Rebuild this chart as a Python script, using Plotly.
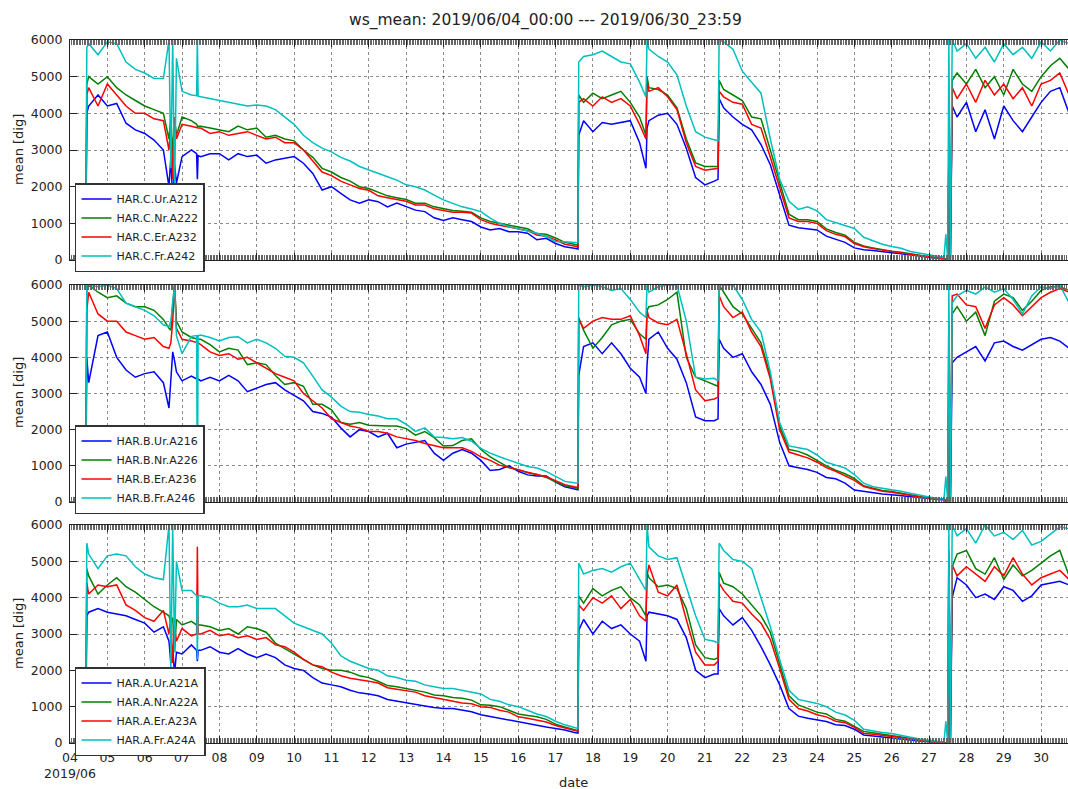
import pandas as pd
import plotly.graph_objects as go

# ---------------- data (sample times in days after 2019-06-04 00:00) ----------------
T_DAYS = [
    0, 0.42, 0.45, 0.5, 0.75, 1.0, 1.25, 1.5, 1.75, 2.0, 2.25, 2.5, 2.65, 2.7, 2.75, 2.8, 2.85, 3.0, 3.25,
    3.39, 3.41, 3.43,
    3.5, 3.75, 4.0, 4.25, 4.5, 4.75, 5.0, 5.25, 5.5, 5.75, 6.0, 6.25, 6.5, 6.75, 7.0, 7.25, 7.5, 7.75,
    8.0, 8.25, 8.5, 8.75, 9.0, 9.25, 9.5, 9.75, 10.0, 10.25, 10.5, 10.75, 11.0, 11.25, 11.5, 11.75,
    12.0, 12.25, 12.5, 12.75, 13.0, 13.25, 13.5, 13.6,
    13.62, 13.75, 14.0, 14.25, 14.5, 14.75, 15.0, 15.25, 15.42,
    15.45, 15.5, 15.75, 16.0, 16.25, 16.5, 16.75, 17.0, 17.25, 17.35,
    17.38, 17.5, 17.75, 18.0, 18.25, 18.5, 18.75, 19.0, 19.25, 19.5, 19.75, 20.0, 20.25, 20.5, 20.75,
    21.0, 21.25, 21.5, 21.75, 22.0, 22.25, 22.5, 22.75, 23.0, 23.25, 23.4,
    23.45, 23.5, 23.53, 23.57,
    23.62, 23.75, 24.0, 24.25, 24.5, 24.75, 25.0, 25.25, 25.5, 25.75, 26.0, 26.25, 26.5, 26.75,
]

# ---- top panel (HAR.C) ----
C_UR = [0, 0, 4000, 4200, 4500, 4200, 4270, 3730, 3550, 3450, 3270, 3000, 2000, 2800, 1600, 2600, 2100, 2820, 3000,
        2900, 2200, 2850,
        2820, 2900, 2900, 2730, 2900, 2820, 2860, 2640, 2730, 2770,
        2820, 2640, 2360, 1910, 2000, 1820, 1640, 1550, 1640, 1590,
        1450, 1550, 1450, 1360, 1320, 1150, 1080, 1150, 1100, 1050,
        900, 820, 860, 770, 770, 730, 550, 590, 450, 360, 320, 300,
        3400, 3800, 3500, 3750, 3700, 3750, 3800, 3200, 2500,
        3600, 3800, 3950, 4000, 3700, 3050, 2250, 2050, 2150, 2200,
        4400, 4150, 3900, 3700, 3550, 3150, 2600, 1750, 950, 880, 850, 820, 650, 560, 480,
        330, 280, 260, 220, 200, 170, 150, 110, 70, 45, 35,
        30, 0, 2600, 0,
        4200, 3900, 4300, 3500, 4100, 3300, 4200, 3800, 3500, 3900, 4300, 4600, 4700, 4000]
C_NR = [0, 0, 4800, 5000, 4800, 5000, 4700, 4500, 4350, 4200, 4100, 4000, 3300, 3900, 2900, 3800, 3400, 3900, 3800,
        3700, 3650, 3650,
        3650, 3600, 3550, 3500, 3650, 3550, 3600, 3350, 3400, 3300,
        3250, 3000, 2800, 2500, 2400, 2250, 2150, 2000, 1950, 1850,
        1750, 1700, 1650, 1550, 1550, 1450, 1400, 1350, 1330, 1300,
        1150, 1050, 1000, 950, 900, 850, 720, 700, 600, 480, 430, 400,
        4500, 4300, 4550, 4400, 4500, 4600, 4300, 3900, 3400,
        5000, 4700, 4650, 4500, 4150, 3300, 2650, 2550, 2550, 2550,
        4900, 4650, 4500, 4350, 3900, 3850, 3000, 2100, 1250, 1100, 1100, 1050, 850, 750, 680,
        480, 380, 330, 280, 240, 210, 180, 130, 90, 60, 45,
        30, 0, 3000, 0,
        4900, 5100, 4800, 5200, 4700, 5000, 4500, 5200, 4800, 4600, 5000, 5300, 5500, 5200]
C_ER = [0, 0, 4500, 4700, 4200, 4800, 4500, 4200, 4000, 4000, 3850, 3800, 3000, 3700, 2200, 3900, 3300, 3700, 3650,
        3600, 3600, 3600,
        3600, 3450, 3500, 3400, 3450, 3500, 3400, 3300, 3350, 3200,
        3200, 3000, 2700, 2400, 2300, 2150, 2050, 1950, 1900, 1750,
        1700, 1650, 1600, 1500, 1500, 1400, 1350, 1300, 1300, 1280,
        1100, 1000, 950, 900, 850, 800, 680, 650, 550, 430, 380, 350,
        4300, 4400, 4200, 4450, 4300, 4400, 4200, 3700, 3300,
        4900, 4600, 4700, 4450, 4100, 3200, 2550, 2450, 2500, 2500,
        4600, 4450, 4300, 4250, 3700, 3600, 2800, 2000, 1150, 1050, 1050, 1000, 800, 700, 640,
        450, 360, 310, 270, 230, 200, 170, 120, 80, 55, 40,
        30, 0, 2800, 0,
        4700, 4400, 4800, 4300, 4900, 4500, 4800, 4400, 4700, 4200, 4800, 4900, 5100, 4500]
C_FR = [0, 0, 5800, 5900, 5600, 5950, 5900, 5400, 5200, 5100, 4950, 4950, 6000, 2500, 6000, 1800, 5500, 4600, 4500,
        4480, 6000, 4470,
        4450, 4400, 4350, 4300, 4250, 4200, 4230, 4200, 4100, 3900,
        3700, 3400, 3200, 3050, 2950, 2800, 2700, 2550, 2450, 2350,
        2270, 2180, 2050, 2000, 1910, 1770, 1640, 1545, 1450, 1390,
        1320, 1140, 1000, 910, 845, 800, 730, 640, 500, 500, 490, 470,
        5400, 5550, 5600, 5700, 5550, 5400, 5350, 4850, 4450,
        6000, 5750, 5550, 5400, 5050, 4200, 3500, 3350, 3280, 3250,
        6000, 5950, 5750, 5150, 4850, 4550, 3300, 2200, 1600, 1380, 1450, 1340, 1100, 1020, 950,
        860, 620, 520, 430, 370, 320, 230, 180, 130, 95, 80,
        700, 0, 6000, 0,
        6000, 5700, 5900, 5500, 5800, 5400, 5900, 5600, 5800, 5500, 5950, 5700, 6000, 5900]

# ---- middle panel (HAR.B) ----
B_UR = [0, 0, 4000, 3300, 4600, 4700, 4000, 3650, 3450, 3550, 3600, 3300, 2600, 3500, 4150, 3900, 3600, 3350, 3480,
        3400, 3400, 3400,
        3350, 3450, 3350, 3500, 3350, 3050, 3150, 3250, 3300, 3100,
        2950, 2800, 2500, 2450, 2350, 2050, 1800, 2000, 1950, 1800,
        1900, 1500, 1600, 1650, 1700, 1350, 1150, 1350, 1450, 1350,
        1150, 870, 900, 1000, 850, 750, 720, 720, 550, 420, 370, 340,
        3500, 4300, 4400, 4100, 4400, 4100, 3700, 3450, 3000,
        3800, 4500, 4700, 4250, 3950, 3300, 2350, 2250, 2250, 2300,
        4500, 4250, 4000, 4100, 3600, 3250, 2700, 1650, 1000, 950, 900, 820, 680, 640, 520,
        330, 290, 260, 220, 200, 170, 140, 110, 90, 70, 60,
        30, 0, 2900, 0,
        3850, 4000, 4150, 4300, 3900, 4400, 4450, 4300, 4200, 4350, 4500, 4550, 4450, 4250]
B_NR = [0, 0, 5900, 6000, 5800, 5650, 5700, 5500, 5400, 5400, 5300, 5050, 4800, 4750, 5500, 6000, 5000, 4700, 4550,
        4500, 4500, 4500,
        4500, 4350, 4150, 4250, 4200, 3800, 3850, 3800, 3500, 3250,
        3300, 3200, 2700, 2700, 2550, 2200, 2150, 2200, 2120, 2100,
        2100, 2100, 2030, 1850, 1950, 1780, 1550, 1560, 1700, 1750,
        1450, 1250, 1100, 950, 900, 810, 760, 680, 560, 450, 400, 380,
        5100, 4750, 4250, 4550, 4900, 5000, 5050, 4650, 4500,
        5300, 5400, 5450, 5600, 5800, 4000, 3450, 3350, 3250, 3200,
        6000, 5800, 5400, 5200, 4800, 4400, 3500, 2100, 1450, 1400, 1300, 1150, 1000, 880, 780,
        650, 450, 380, 320, 290, 240, 190, 150, 120, 90, 80,
        40, 0, 5000, 0,
        5200, 5400, 5000, 5250, 4600, 5550, 5750, 5650, 5300, 5550, 5850, 5950, 5950, 5850]
B_ER = [0, 0, 5300, 5800, 5200, 5000, 5000, 4700, 4600, 4500, 4550, 4300, 4250, 4400, 5000, 6000, 4800, 4500, 4450,
        4400, 4400, 4400,
        4350, 4150, 4050, 4100, 3950, 4000, 3850, 3700, 3550, 3450,
        3350, 3000, 2800, 2600, 2300, 2200, 2100, 2050, 1950, 1950,
        1900, 1800, 1750, 1700, 1620, 1550, 1500, 1500, 1500, 1400,
        1250, 1150, 1020, 950, 880, 830, 760, 700, 600, 480, 420, 400,
        5050, 4800, 5000, 5100, 5050, 5050, 5150, 4600, 4100,
        5300, 5100, 4950, 4900, 5050, 4100, 3100, 2800, 2850, 2900,
        5700, 5400, 5100, 5250, 4700, 4300, 3400, 2000, 1380, 1300, 1220, 1100, 950, 850, 730,
        600, 430, 360, 300, 270, 220, 180, 140, 110, 80, 70,
        40, 0, 4000, 0,
        5700, 5750, 5450, 5400, 4800, 5450, 5650, 5450, 5150, 5400, 5650, 5800, 5900, 5800]
B_FR = [0, 0, 6000, 6000, 5950, 6000, 5900, 5500, 5400, 5300, 5150, 4900, 4850, 5000, 5500, 6000, 4600, 4100, 4580,
        4600, 0, 4600,
        4620, 4550, 4450, 4550, 4570, 4400, 4500, 4400, 4250, 4030,
        4000, 3850, 3480, 3100, 2900, 2650, 2500, 2480, 2420, 2380,
        2300, 2300, 2150, 1950, 2050, 1800, 1780, 1750, 1780, 1680,
        1480, 1350, 1250, 1160, 1070, 980, 940, 845, 710, 570, 530, 520,
        6000, 5950, 6000, 5950, 5850, 5900, 5600, 5250, 5100,
        6000, 5800, 5950, 6000, 6000, 5000, 3450, 3400, 3420, 3350,
        6000, 6000, 6000, 5600, 5050, 4700, 3600, 2200, 1550, 1500, 1450, 1300, 1100, 1020, 940,
        760, 520, 420, 380, 360, 300, 240, 180, 140, 100, 90,
        700, 0, 6000, 0,
        5500, 5700, 5850, 5750, 5950, 5800, 5900, 5600, 5200, 5700, 5950, 5900, 6000, 5500]

# ---- bottom panel (HAR.A) ----
A_UR = [0, 0, 3500, 3600, 3700, 3600, 3550, 3500, 3400, 3300, 3050, 3200, 2800, 2200, 2600, 1900, 2500, 2450, 2700,
        2550, 2250, 2550,
        2550, 2650, 2500, 2450, 2600, 2450, 2350, 2450, 2350, 2150,
        2050, 2000, 1800, 1650, 1600, 1550, 1450, 1380, 1350, 1300,
        1200, 1150, 1100, 1050, 1020, 980, 950, 950, 900, 860,
        780, 730, 680, 620, 580, 540, 480, 440, 400, 360, 290, 270,
        3100, 3400, 3000, 3350, 3150, 3250, 3000, 2800, 2250,
        3500, 3600, 3550, 3500, 3400, 2900, 2000, 1800, 1900, 1900,
        3700, 3500, 3250, 3450, 3100, 2650, 2150, 1600, 950, 740, 680, 630, 590, 500, 480,
        380, 220, 190, 160, 140, 120, 90, 55, 35, 20, 15,
        20, 0, 5300, 0,
        4000, 4550, 4350, 4000, 4100, 3950, 4300, 4200, 3900, 4050, 4350, 4400, 4450, 4350]
A_NR = [0, 0, 4800, 4600, 4100, 4350, 4550, 4300, 4150, 3950, 3750, 3600, 3500, 3300, 3450, 2500, 3400, 3250, 3350,
        3250, 3250, 3250,
        3250, 3200, 3100, 3150, 3000, 3200, 3150, 3050, 2750, 2600,
        2450, 2300, 2150, 2050, 2000, 2000, 1950, 1850, 1800, 1700,
        1580, 1550, 1500, 1450, 1400, 1320, 1300, 1250, 1230, 1180,
        1050, 1040, 1000, 900, 800, 760, 720, 650, 520, 440, 360, 340,
        4050, 3850, 4250, 4050, 4200, 4300, 4000, 3800, 3500,
        4700, 4550, 4300, 4350, 4250, 3700, 2700, 2350, 2300, 2350,
        4700, 4400, 4300, 4100, 3800, 3500, 3050, 2200, 1300, 1050, 950, 850, 800, 650, 600,
        450, 320, 280, 240, 210, 170, 120, 80, 50, 25, 20,
        20, 0, 5000, 0,
        4850, 5200, 5300, 4800, 4650, 5100, 4500, 4900, 4600, 4750, 4950, 5150, 5300, 4600]
A_ER = [0, 0, 4400, 4100, 4350, 4300, 4350, 3800, 3650, 3450, 3350, 3650, 3000, 3500, 2200, 3200, 2800, 3150, 2950,
        3000, 5400, 3000,
        3000, 3100, 2950, 3000, 2900, 2950, 2850, 2900, 2700, 2650,
        2500, 2300, 2150, 2100, 1950, 1850, 1780, 1750, 1700, 1650,
        1520, 1480, 1450, 1400, 1300, 1250, 1180, 1150, 1100, 1080,
        1000, 980, 900, 850, 720, 680, 640, 580, 480, 410, 340, 320,
        3800, 3650, 4000, 3850, 4050, 3700, 3950, 3500, 3350,
        4600, 4900, 4150, 4050, 4350, 3400, 2500, 2150, 2150, 2250,
        4400, 4200, 3900, 3850, 3550, 3300, 2850, 2050, 1200, 950, 880, 780, 720, 600, 560,
        430, 270, 240, 200, 180, 150, 110, 70, 40, 20, 15,
        20, 0, 1300, 0,
        4900, 4600, 4850, 4650, 4450, 4850, 4600, 5100, 4650, 4350, 4550, 4650, 4750, 4500]
A_FR = [0, 0, 5500, 5200, 4800, 5150, 5200, 5150, 4850, 4650, 4550, 4500, 6000, 2000, 6000, 2500, 5000, 4200, 4200,
        4050, 2300, 4050,
        4050, 4000, 3850, 3750, 3750, 3800, 3700, 3700, 3700, 3500,
        3300, 3200, 3100, 3000, 2750, 2400, 2250, 2150, 2050, 2000,
        1850, 1800, 1730, 1700, 1600, 1550, 1500, 1500, 1450, 1400,
        1350, 1200, 1150, 1050, 1000, 900, 800, 730, 600, 500, 420, 400,
        4950, 4650, 4750, 4800, 4700, 4850, 4950, 4500, 4200,
        6000, 5400, 5150, 5050, 5100, 4300, 3500, 2850, 2800, 2750,
        5500, 5300, 5050, 5000, 4800, 4000, 3200, 2300, 1450, 1200, 1150, 1090, 1000, 850, 770,
        620, 380, 330, 290, 260, 220, 160, 110, 70, 40, 30,
        600, 0, 6000, 0,
        6000, 5700, 5900, 5500, 6000, 5700, 5800, 5600, 5850, 5450, 5550, 5750, 5950, 5900]

TOP_NAMES = ["HAR.C.Ur.A212", "HAR.C.Nr.A222", "HAR.C.Er.A232", "HAR.C.Fr.A242"]
MID_NAMES = ["HAR.B.Ur.A216", "HAR.B.Nr.A226", "HAR.B.Er.A236", "HAR.B.Fr.A246"]
BOT_NAMES = ["HAR.A.Ur.A21A", "HAR.A.Nr.A22A", "HAR.A.Er.A23A", "HAR.A.Fr.A24A"]
DAY_LABELS = ["04<br>2019/06"] + ["%02d" % d for d in range(5, 31)]
Y_TICKS = [0, 1000, 2000, 3000, 4000, 5000, 6000]
TITLE = "ws_mean: 2019/06/04_00:00 --- 2019/06/30_23:59"

COLORS = ["#0000ff", "#008000", "#ff0000", "#00bfbf"]

# ---------------- figure ----------------
start = pd.Timestamp("2019-06-04 00:00")
times = start + pd.to_timedelta(T_DAYS, unit="D")
x_end = start + pd.to_timedelta(26.72, unit="D")
day_ticks = [start + pd.Timedelta(days=i) for i in range(27)]

panels = [
    (TOP_NAMES, [C_UR, C_NR, C_ER, C_FR], "x", "y", "legend"),
    (MID_NAMES, [B_UR, B_NR, B_ER, B_FR], "x2", "y2", "legend2"),
    (BOT_NAMES, [A_UR, A_NR, A_ER, A_FR], "x3", "y3", "legend3"),
]

fig = go.Figure()
for names, series, xa, ya, leg in panels:
    for name, vals, col in zip(names, series, COLORS):
        if len(vals) != len(T_DAYS):
            raise ValueError(f"{name}: {len(vals)} values vs {len(T_DAYS)} times")
        fig.add_trace(go.Scatter(
            x=times, y=vals, mode="lines", name=name,
            line=dict(color=col, width=1.5),
            xaxis=xa, yaxis=ya, legend=leg, legendgroup=name,
        ))

FONT = "DejaVu Sans"
tickfont = dict(family=FONT, size=12.5, color="#222")

def xaxis_cfg(anchor, labels):
    return dict(
        anchor=anchor, domain=[0, 1], type="date",
        range=[start, x_end],
        tickvals=day_ticks, ticktext=DAY_LABELS, showticklabels=labels,
        showgrid=True, gridcolor="rgba(0,0,0,0.45)", griddash="dot", gridwidth=1,
        showline=True, linecolor="#222", linewidth=1, mirror="ticks",
        ticks="inside", ticklen=7, tickcolor="#222", tickwidth=1,
        minor=dict(ticks="inside", ticklen=5, dtick=3600000, tickcolor="#666",
                   tickwidth=1, showgrid=False),
        zeroline=False, tickfont=tickfont, ticklabelstandoff=3,
    )

def yaxis_cfg(anchor, domain):
    return dict(
        anchor=anchor, domain=domain, range=[0, 6000],
        tickvals=Y_TICKS, ticktext=[str(v) for v in Y_TICKS],
        showgrid=True, gridcolor="rgba(0,0,0,0.45)", griddash="dot", gridwidth=1,
        showline=True, linecolor="#222", linewidth=1, mirror=False,
        ticks="inside", ticklen=7, tickcolor="#222",
        zeroline=False, tickfont=tickfont, ticklabelstandoff=4,
    )

H_TOP, H_BOT = 40, 46
plot_h = 789 - H_TOP - H_BOT

def dom(y_top_px, y_bot_px):
    return [(743 - y_bot_px) / plot_h, (743 - y_top_px) / plot_h]

def legend_cfg(y_top_px):
    return dict(
        x=0.005, y=(743 - y_top_px) / plot_h, xanchor="left", yanchor="top",
        bgcolor="white", bordercolor="#333", borderwidth=1.5,
        font=dict(family=FONT, size=11, color="#222"),
        tracegroupgap=0, itemwidth=30,
    )

fig.update_layout(
    width=1068, height=789,
    margin=dict(l=70, r=0, t=H_TOP, b=H_BOT),
    paper_bgcolor="white", plot_bgcolor="white",
    font=dict(family=FONT, color="#222"),
    showlegend=True,
    xaxis=xaxis_cfg("y", False),
    xaxis2=xaxis_cfg("y2", False),
    xaxis3=xaxis_cfg("y3", True),
    yaxis=yaxis_cfg("x", dom(40, 260)),
    yaxis2=yaxis_cfg("x2", dom(285, 502)),
    yaxis3=yaxis_cfg("x3", dom(525, 743)),
    legend=legend_cfg(183),
    legend2=legend_cfg(425),
    legend3=legend_cfg(667),
)

annotations = [
    dict(text=TITLE, x=(545 - 70) / 998, y=(743 - 20) / plot_h, xref="paper", yref="paper",
         showarrow=False, xanchor="center", yanchor="middle", font=dict(family=FONT, size=15.5, color="#222")),
    dict(text="date", x=(573 - 70) / 998, y=(743 - 773) / plot_h, xref="paper", yref="paper",
         showarrow=False, xanchor="center", yanchor="top", font=dict(family=FONT, size=13, color="#222")),
]
for yc in (150, 393, 634):
    annotations.append(dict(
        text="mean [dig]", x=(18 - 70) / 998, y=(743 - yc) / plot_h, xref="paper", yref="paper",
        showarrow=False, textangle=-90, xanchor="center", yanchor="middle",
        font=dict(family=FONT, size=13, color="#222")))
fig.update_layout(annotations=annotations)

fig.write_html("out.html")
